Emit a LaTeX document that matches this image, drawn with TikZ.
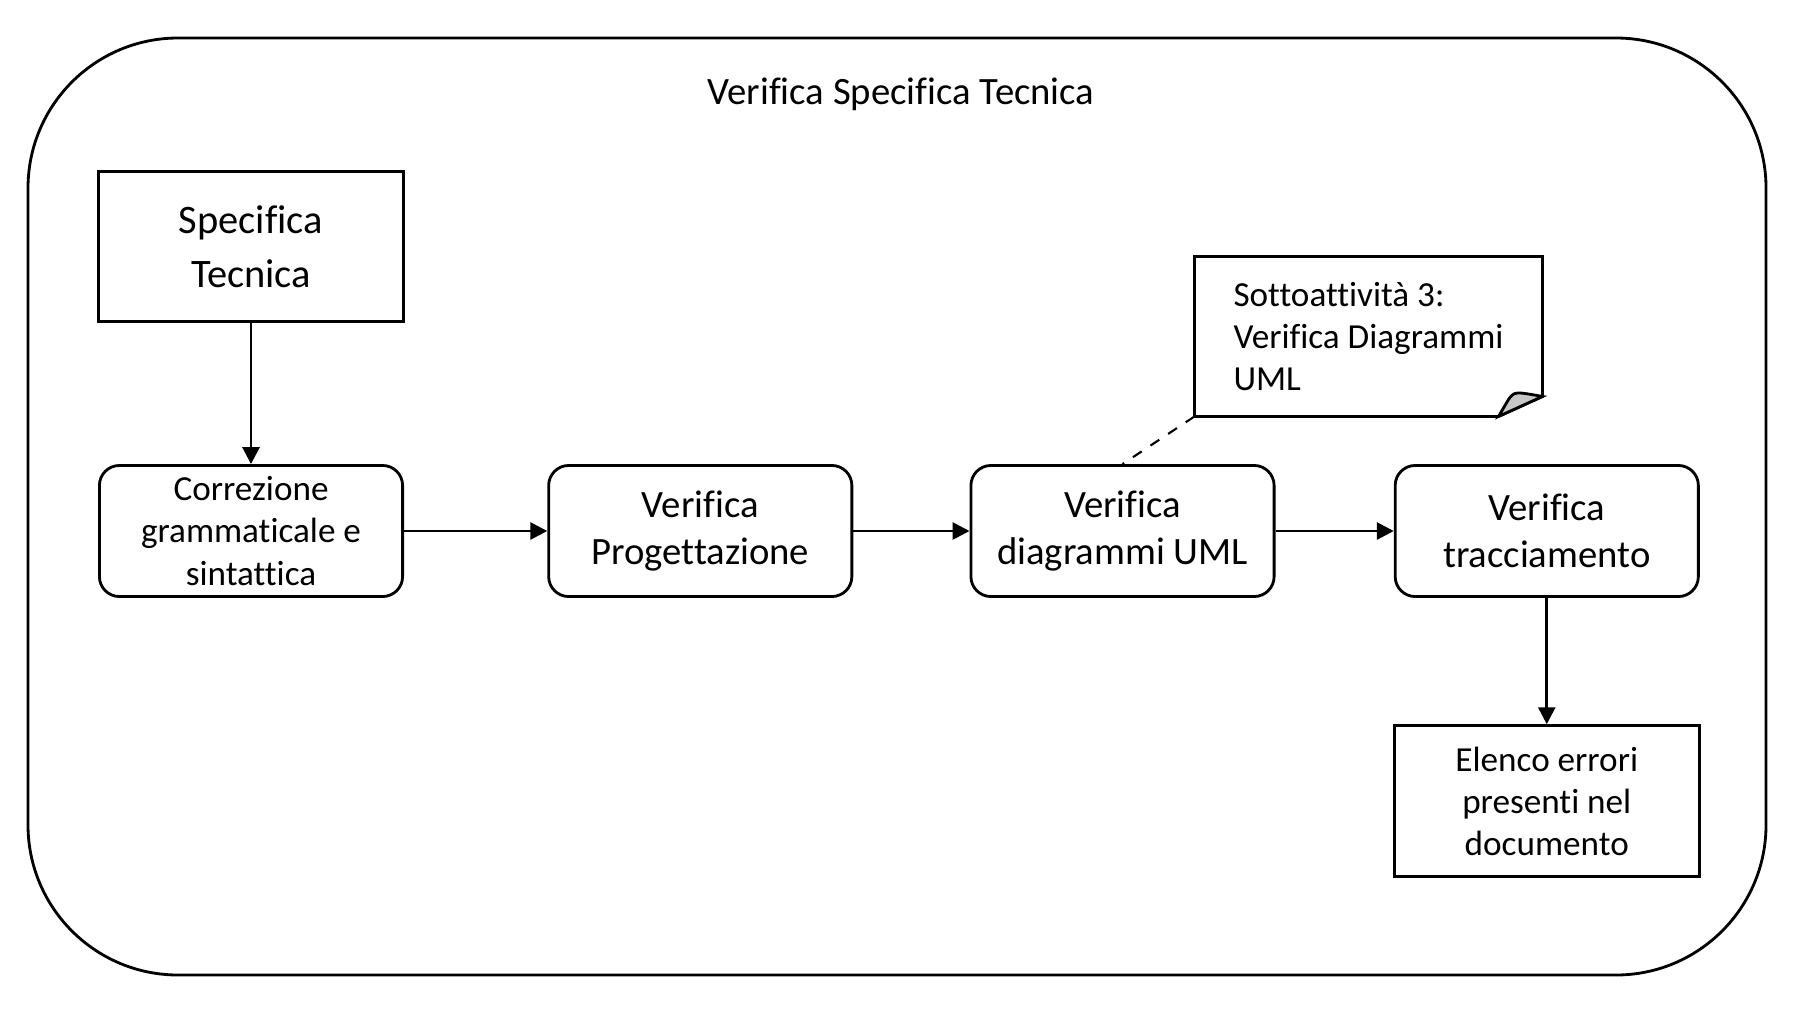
\documentclass[tikz,border=0pt]{standalone}
\usepackage{fontspec}
\setmainfont{Carlito}[Ligatures={NoCommon,NoContextual}]
\usepackage{tikz}
\usetikzlibrary{arrows.meta}
\definecolor{foldcolor}{rgb}{0.78,0.78,0.78}

\begin{document}
\begin{tikzpicture}[x=0.01cm,y=-0.01cm,->,>={Triangle[length=4.8pt,width=4.8pt]},
                    thick,node distance=2.84cm]
  \tikzstyle{activity}=[draw,rounded corners=0.2cm,minimum width=3.03cm,minimum height=1.31cm,
                        align=center,inner sep=0pt]
  \tikzstyle{doc}=[draw,minimum width=3.05cm,minimum height=1.5cm,align=center,inner sep=0pt]
  \tikzstyle{small}=[font=\fontsize{10}{12}\selectfont]
  \tikzstyle{medium}=[font=\fontsize{11}{13.4}\selectfont]

  \useasboundingbox (0,0) rectangle (1798,1024);
  \draw[-,rounded corners=1.5cm] (28,38) rectangle (1766,975);
  \node[font=\fontsize{11}{13}\selectfont] (title) at (901,94) {Verifica Specifica Tecnica};

  \node[activity,small]  (corr)  at (251,531)  {Correzione\\grammaticale e\\sintattica};
  \node[doc,font=\fontsize{11.5}{15.4}\selectfont] (spec) [above of=corr] {Specifica\\Tecnica};
  \node[activity,medium] (prog)  [right of=corr,node distance=4.49cm] {Verifica\\Progettazione};
  \node[activity,medium] (diag)  [right of=prog,node distance=4.22cm] {Verifica\\diagrammi UML};
  \node[activity,medium] (tracc) [right of=diag,node distance=4.24cm] {Verifica\\tracciamento};
  \node[doc,small,minimum height=1.51cm] (err) [below of=tracc,node distance=2.7cm] {Elenco errori\\presenti nel\\documento};

  % nota con angolo piegato
  \node[small,align=left,minimum width=3.45cm,minimum height=1.57cm,inner sep=0pt]
        (note) at (1368.5,336.5) {Sottoattività 3:\\Verifica Diagrammi\\UML};
  \draw[-] (note.north west) -- (note.north east) -- ([yshift=0.2cm]note.south east)
        -- ([xshift=-0.44cm]note.south east) -- (note.south west) -- cycle;
  \filldraw[-,fill=foldcolor] ([xshift=-0.44cm]note.south east) -- ([yshift=0.2cm]note.south east)
        .. controls ([xshift=-0.28cm,yshift=0.25cm]note.south east) .. ([xshift=-0.34cm,yshift=0.17cm]note.south east)
        -- cycle;

  \path (spec) edge (corr)
        (corr) edge (prog)
        (prog) edge (diag)
        (diag) edge (tracc)
        (tracc) edge (err);
  \draw[-,semithick,dashed] (note.south west) -- (diag.north);
\end{tikzpicture}
\end{document}
